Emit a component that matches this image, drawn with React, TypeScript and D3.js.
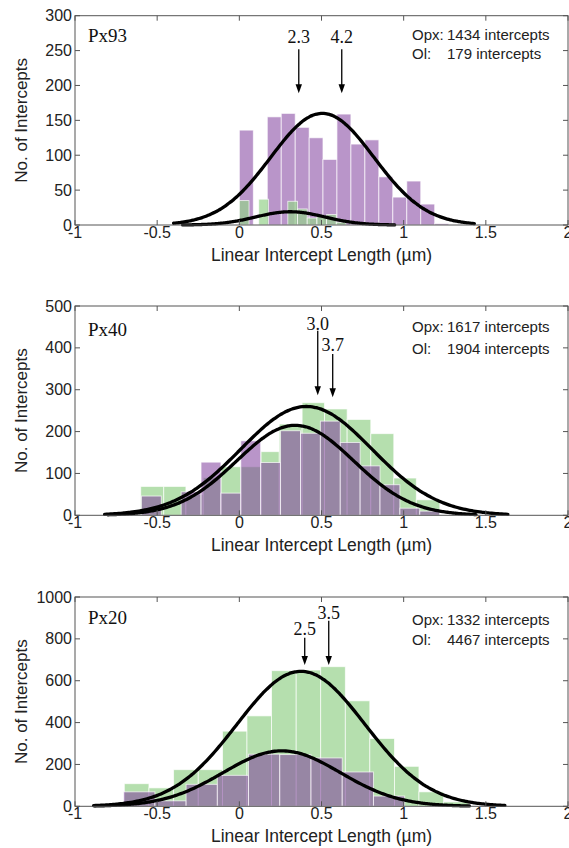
import React from "react";
import * as d3 from "d3";

const W = 569;
const H = 848;

// ---- data ----
const panelNames = ["Px93", "Px40", "Px20"];
const yMaxes = [300, 500, 1000];
const yTickSteps = [50, 100, 200];
const xTicks = [-1, -0.5, 0, 0.5, 1, 1.5, 2];
const opxCounts = [1434, 1617, 1332];
const olCounts = [179, 1904, 4467];

// Opx (purple) histograms
const opxEdgesPx93 = [0, 0.085, 0.17, 0.255, 0.34, 0.425, 0.509, 0.594, 0.679, 0.764, 0.849, 0.934, 1.019, 1.104, 1.189, 1.274];
const opxPx93 = [136, 0, 155, 160, 140, 125, 94, 159, 116, 122, 69, 40, 63, 30, 2];
const opxEdgesPx40 = [-0.596, -0.475, -0.354, -0.233, -0.112, 0.009, 0.13, 0.251, 0.372, 0.493, 0.614, 0.735, 0.856, 0.977, 1.098, 1.219];
const opxPx40 = [46, 0, 56, 127, 53, 178, 126, 202, 196, 225, 174, 118, 73, 17, 10];
const opxEdgesPx20 = [-0.704, -0.514, -0.324, -0.134, 0.056, 0.246, 0.436, 0.626, 0.816, 1.006];
const opxPx20 = [69, 26, 105, 148, 249, 247, 231, 164, 49];

// Ol (green) histograms
const olEdgesPx93 = [0, 0.059, 0.118, 0.177, 0.236, 0.295, 0.354, 0.413, 0.472, 0.531, 0.59, 0.649];
const olPx93 = [35, 0, 37, 0, 0, 34, 23, 10, 13, 15, 4];
const olEdgesPx40 = [-0.6, -0.46, -0.325, -0.22, -0.112, 0.01, 0.132, 0.243, 0.382, 0.518, 0.656, 0.8, 0.94, 1.077, 1.22];
const olPx40 = [69, 69, 50, 90, 116, 116, 152, 218, 269, 254, 229, 195, 89, 37];
const olEdgesPx20 = [-0.7, -0.55, -0.4, -0.25, -0.102, 0.0465, 0.196, 0.346, 0.495, 0.645, 0.794, 0.944, 1.093, 1.243, 1.393];
const olPx20 = [108, 88, 175, 175, 359, 432, 648, 651, 667, 504, 324, 191, 69, 21];

// Gaussian fits: [mean, sd, peak, from, to]
const opxFits = [
  [0.505, 0.314, 160, -0.4, 1.43],
  [0.34, 0.355, 215, -0.8, 1.44],
  [0.258, 0.357, 265, -0.88, 1.4],
];
const olFits = [
  [0.31, 0.21, 19, -0.345, 0.945],
  [0.408, 0.4, 260, -0.82, 1.634],
  [0.375, 0.39, 645, -0.887, 1.616],
];

// arrow annotations (µm); positioned at log10(value)
const arrowValues = [
  [2.3, 4.2],
  [3.0, 3.7],
  [3.5, 2.5],
];
const arrowTips = [
  [189, 189],
  [287, 282],
  [675, 675],
];

// ---- layout ----
const plotLeft = 75;
const plotRight = 568;
const panelTops = [15.7, 306, 597];
const plotH = 209.3;
const arrowLabelOffsets = [
  [27.6, 27.6],
  [24, 45],
  [22.3, 38],
];
const arrowTopOffsets = [
  [33.6, 33.6],
  [24.7, 48],
  [23.7, 40.7],
];
const panelLabelOffsets = [26.5, 30, 27];
const countOffsets = [
  [24.5, 43.5],
  [26, 48],
  [28, 48],
];

const sans = "'Liberation Sans', Arial, Helvetica, sans-serif";
const serif = "'Liberation Serif', 'Times New Roman', Times, serif";
const axisColor = "#555";
const textColor = "#222";

const purpleFill = "rgb(125,60,155)";
const purpleOpacity = 0.54;
const greenFill = "rgb(150,210,140)";
const greenOpacity = 0.7;

function Bars({ edges, values, x, y, fill, opacity }) {
  return (
    <g>
      {values.map((v, k) =>
        v > 0 ? (
          <rect
            key={k}
            x={x(edges[k])}
            width={x(edges[k + 1]) - x(edges[k])}
            y={y(v)}
            height={y(0) - y(v)}
            fill={fill}
            fillOpacity={opacity}
            stroke="#fff"
            strokeOpacity={0.75}
            strokeWidth={0.9}
          />
        ) : null
      )}
    </g>
  );
}

function Fit({ fit, x, y }) {
  const [m, s, a, x0, x1] = fit;
  const pts = d3.range(0, 201).map((i) => {
    const xv = x0 + ((x1 - x0) * i) / 200;
    return [xv, a * Math.exp(-((xv - m) ** 2) / (2 * s * s))];
  });
  const line = d3
    .line()
    .x((d) => x(d[0]))
    .y((d) => y(d[1]))
    .curve(d3.curveBasis);
  return <path d={line(pts)} fill="none" stroke="#000" strokeWidth={3.3} strokeLinecap="round" />;
}

function Panel({ i }) {
  const top = panelTops[i];
  const bottom = top + plotH;
  const x = d3.scaleLinear().domain([-1, 2]).range([plotLeft, plotRight]);
  const y = d3.scaleLinear().domain([0, yMaxes[i]]).range([bottom, top]);
  const yTicks = d3.range(0, yMaxes[i] + 1e-9, yTickSteps[i]);
  const opxEdges = [opxEdgesPx93, opxEdgesPx40, opxEdgesPx20][i];
  const opxVals = [opxPx93, opxPx40, opxPx20][i];
  const olEdges = [olEdgesPx93, olEdgesPx40, olEdgesPx20][i];
  const olVals = [olPx93, olPx40, olPx20][i];

  const purple = (
    <Bars key="p" edges={opxEdges} values={opxVals} x={x} y={y} fill={purpleFill} opacity={purpleOpacity} />
  );
  const green = (
    <Bars key="g" edges={olEdges} values={olVals} x={x} y={y} fill={greenFill} opacity={greenOpacity} />
  );
  const tickLen = 5;
  const fmt = d3.format(".1f");

  return (
    <g>
      {i === 0 ? [purple, green] : [green, purple]}
      <Fit fit={opxFits[i]} x={x} y={y} />
      <Fit fit={olFits[i]} x={x} y={y} />

      <rect x={plotLeft} y={top} width={plotRight - plotLeft} height={plotH} fill="none" stroke={axisColor} strokeWidth={1} />
      {xTicks.map((t) => (
        <g key={"xt" + t}>
          <line x1={x(t)} x2={x(t)} y1={bottom} y2={bottom - tickLen} stroke={axisColor} />
          <line x1={x(t)} x2={x(t)} y1={top} y2={top + tickLen} stroke={axisColor} />
          <text x={x(t)} y={bottom + 12.5} textAnchor="middle" fontFamily={sans} fontSize={16} fill={textColor}>
            {String(t)}
          </text>
        </g>
      ))}
      {yTicks.map((t) => (
        <g key={"yt" + t}>
          <line x1={plotLeft} x2={plotLeft + tickLen} y1={y(t)} y2={y(t)} stroke={axisColor} />
          <line x1={plotRight} x2={plotRight - tickLen} y1={y(t)} y2={y(t)} stroke={axisColor} />
          <text x={72} y={y(t) + 5.5} textAnchor="end" fontFamily={sans} fontSize={16} fill={textColor}>
            {String(t)}
          </text>
        </g>
      ))}
      <text x={(plotLeft + plotRight) / 2} y={bottom + 36} textAnchor="middle" fontFamily={sans} fontSize={17.5} fill={textColor}>
        Linear Intercept Length (µm)
      </text>
      <text
        transform={`translate(27,${(top + bottom) / 2}) rotate(-90)`}
        textAnchor="middle"
        fontFamily={sans}
        fontSize={17}
        fill={textColor}
      >
        No. of Intercepts
      </text>

      <text x={88} y={top + panelLabelOffsets[i]} fontFamily={serif} fontSize={19} fill="#111">
        {panelNames[i]}
      </text>

      <text x={412} y={top + countOffsets[i][0]} fontFamily={sans} fontSize={15} fill={textColor}>Opx:</text>
      <text x={447} y={top + countOffsets[i][0]} fontFamily={sans} fontSize={15} fill={textColor}>
        {opxCounts[i]} intercepts
      </text>
      <text x={412} y={top + countOffsets[i][1]} fontFamily={sans} fontSize={15} fill={textColor}>Ol:</text>
      <text x={447} y={top + countOffsets[i][1]} fontFamily={sans} fontSize={15} fill={textColor}>
        {olCounts[i]} intercepts
      </text>

      {arrowValues[i].map((v, k) => {
        const ax = x(Math.log10(v));
        const tipY = y(arrowTips[i][k]);
        const y0 = top + arrowTopOffsets[i][k];
        return (
          <g key={"ar" + k}>
            <text x={ax} y={top + arrowLabelOffsets[i][k]} textAnchor="middle" fontFamily={serif} fontSize={18} fill="#111">
              {fmt(v)}
            </text>
            <line x1={ax} x2={ax} y1={y0} y2={tipY - 6} stroke="#000" strokeWidth={1.3} />
            <path d={`M${ax - 3.2},${tipY - 9} L${ax + 3.2},${tipY - 9} L${ax},${tipY} Z`} fill="#000" />
          </g>
        );
      })}
    </g>
  );
}

export default function App() {
  return (
    <div style={{ position: "absolute", left: 0, top: 0, width: W, height: H, background: "#fff" }}>
      <svg width={W} height={H} style={{ display: "block" }}>
        <rect width={W} height={H} fill="#fff" />
        {[0, 1, 2].map((i) => (
          <Panel key={i} i={i} />
        ))}
      </svg>
    </div>
  );
}
